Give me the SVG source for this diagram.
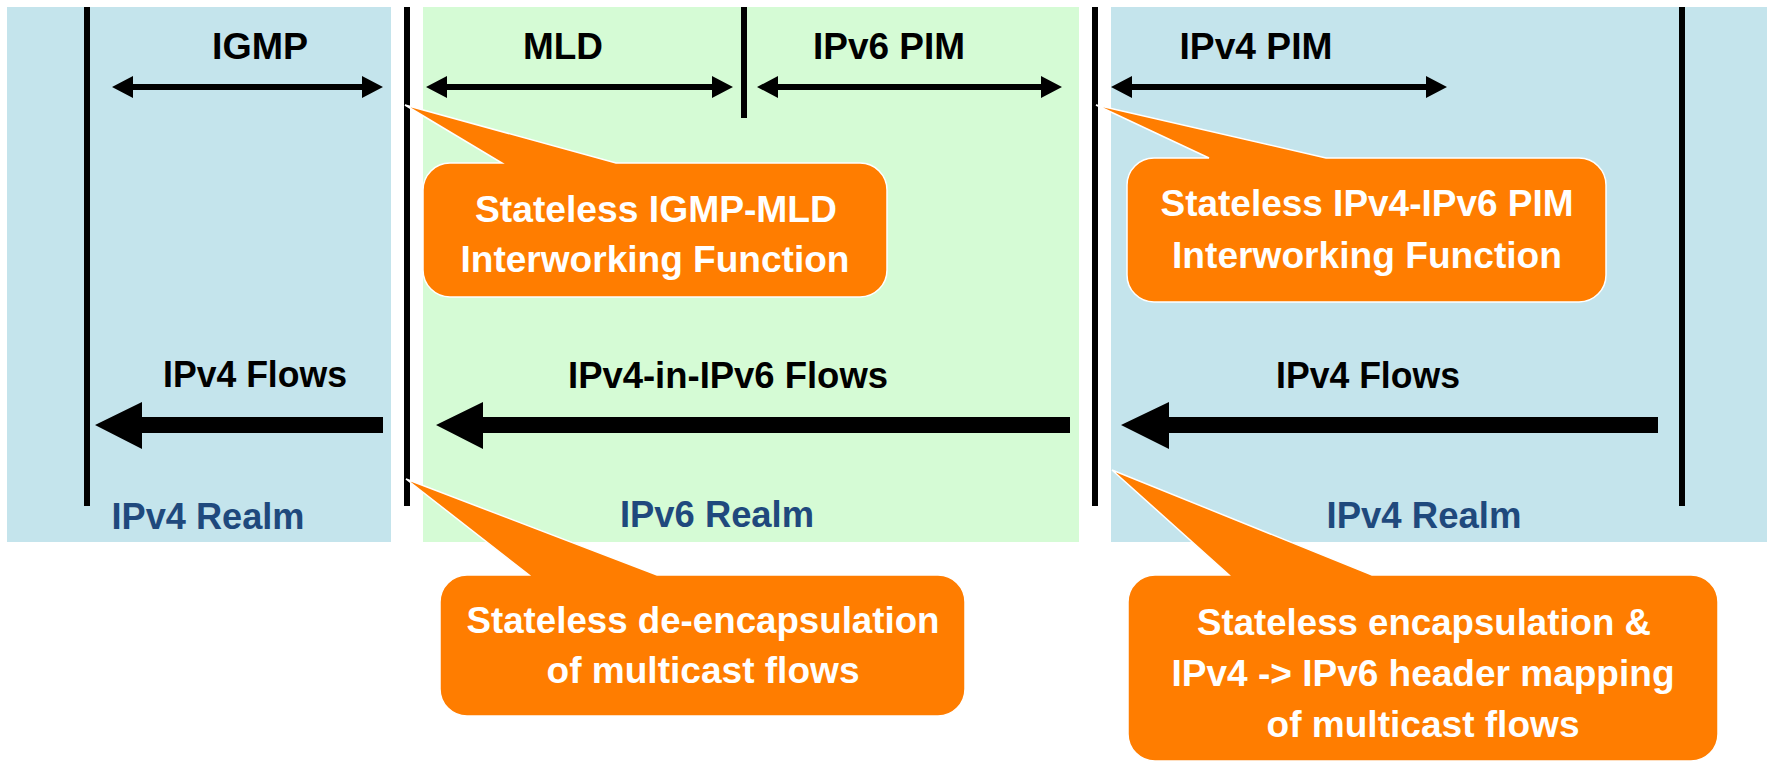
<svg xmlns="http://www.w3.org/2000/svg" width="1772" height="764" viewBox="0 0 1772 764">
  <style>
    .bg-v4 { fill: #C4E4EC; }
    .bg-v6 { fill: #D5FBD5; }
    .bound { stroke: #000; stroke-width: 6; fill: none; }
    .lbl { font-family: "Liberation Sans", Arial, sans-serif; font-weight: bold; font-size: 37px; fill: #000; text-anchor: middle; }
    .realm { font-family: "Liberation Sans", Arial, sans-serif; font-weight: bold; font-size: 36px; fill: #1F497D; text-anchor: middle; }
    .call { fill: #FF7D00; stroke: #FFFFFF; stroke-width: 1.5; }
    .ctext { font-family: "Liberation Sans", Arial, sans-serif; font-weight: bold; font-size: 37.5px; fill: #FFFFFF; text-anchor: middle; }
    .arr { fill: #000; }
  </style>

  <rect width="1772" height="764" fill="#FFFFFF"/>

  <g id="realm-ipv4-left">
    <rect class="bg-v4" x="7" y="7" width="384" height="535"/>
    <text class="realm" x="208" y="529" textLength="193" lengthAdjust="spacingAndGlyphs">IPv4 Realm</text>
  </g>
  <g id="realm-ipv6">
    <rect class="bg-v6" x="423" y="7" width="656" height="535"/>
    <text class="realm" x="717" y="527" textLength="194" lengthAdjust="spacingAndGlyphs">IPv6 Realm</text>
  </g>
  <g id="realm-ipv4-right">
    <rect class="bg-v4" x="1111" y="7" width="656" height="535"/>
    <text class="realm" x="1424" y="528" textLength="195" lengthAdjust="spacingAndGlyphs">IPv4 Realm</text>
  </g>

  <g id="boundaries">
    <line class="bound" x1="87" y1="7" x2="87" y2="506"/>
    <line class="bound" x1="407" y1="7" x2="407" y2="506"/>
    <line class="bound" x1="744" y1="7" x2="744" y2="118"/>
    <line class="bound" x1="1095" y1="7" x2="1095" y2="506"/>
    <line class="bound" x1="1682" y1="7" x2="1682" y2="506"/>
  </g>

  <g id="connectors">
    <!-- bidirectional protocol arrows -->
    <path class="arr" d="M112,87 L133,76 L133,84 L362,84 L362,76 L383,87 L362,98 L362,90 L133,90 L133,98 Z"/>
    <path class="arr" d="M426,87 L447,76 L447,84 L712,84 L712,76 L733,87 L712,98 L712,90 L447,90 L447,98 Z"/>
    <path class="arr" d="M757,87 L778,76 L778,84 L1041,84 L1041,76 L1062,87 L1041,98 L1041,90 L778,90 L778,98 Z"/>
    <path class="arr" d="M1111,87 L1132,76 L1132,84 L1426,84 L1426,76 L1447,87 L1426,98 L1426,90 L1132,90 L1132,98 Z"/>
    <!-- flow arrows -->
    <path class="arr" d="M95,425 L142,402 L142,417 L383,417 L383,433 L142,433 L142,449 Z"/>
    <path class="arr" d="M436,425 L483,402 L483,417 L1070,417 L1070,433 L483,433 L483,449 Z"/>
    <path class="arr" d="M1121,425 L1169,402 L1169,417 L1658,417 L1658,433 L1169,433 L1169,449 Z"/>
  </g>

  <g id="labels">
    <text class="lbl" x="260" y="59" textLength="96" lengthAdjust="spacingAndGlyphs">IGMP</text>
    <text class="lbl" x="563" y="59" textLength="80" lengthAdjust="spacingAndGlyphs">MLD</text>
    <text class="lbl" x="889" y="59" textLength="152" lengthAdjust="spacingAndGlyphs">IPv6 PIM</text>
    <text class="lbl" x="1256" y="59" textLength="153" lengthAdjust="spacingAndGlyphs">IPv4 PIM</text>
    <text class="lbl" x="255" y="387" textLength="184" lengthAdjust="spacingAndGlyphs">IPv4 Flows</text>
    <text class="lbl" x="728" y="388" textLength="320" lengthAdjust="spacingAndGlyphs">IPv4-in-IPv6 Flows</text>
    <text class="lbl" x="1368" y="388" textLength="184" lengthAdjust="spacingAndGlyphs">IPv4 Flows</text>
  </g>

  <g id="callout-igmp-mld">
    <path class="call" d="M450,163 L502,163 L405,105 L616,163 L860,163 A27,27 0 0 1 887,190 L887,270 A27,27 0 0 1 860,297 L450,297 A27,27 0 0 1 423,270 L423,190 A27,27 0 0 1 450,163 Z"/>
    <text class="ctext" x="656" y="222" textLength="362" lengthAdjust="spacingAndGlyphs">Stateless IGMP-MLD</text>
    <text class="ctext" x="655" y="272" textLength="389" lengthAdjust="spacingAndGlyphs">Interworking Function</text>
  </g>

  <g id="callout-pim">
    <path class="call" d="M1154,158 L1209,158 L1096,105 L1326,158 L1579,158 A27,27 0 0 1 1606,185 L1606,275 A27,27 0 0 1 1579,302 L1154,302 A27,27 0 0 1 1127,275 L1127,185 A27,27 0 0 1 1154,158 Z"/>
    <text class="ctext" x="1367" y="216" textLength="413" lengthAdjust="spacingAndGlyphs">Stateless IPv4-IPv6 PIM</text>
    <text class="ctext" x="1367" y="268" textLength="390" lengthAdjust="spacingAndGlyphs">Interworking Function</text>
  </g>

  <g id="callout-decap">
    <path class="call" d="M467,575 L529,575 L406,479 L657,575 L938,575 A27,27 0 0 1 965,602 L965,689 A27,27 0 0 1 938,716 L467,716 A27,27 0 0 1 440,689 L440,602 A27,27 0 0 1 467,575 Z"/>
    <text class="ctext" x="703" y="633" textLength="473" lengthAdjust="spacingAndGlyphs">Stateless de-encapsulation</text>
    <text class="ctext" x="703" y="683" textLength="313" lengthAdjust="spacingAndGlyphs">of multicast flows</text>
  </g>

  <g id="callout-encap">
    <path class="call" d="M1155,575 L1229,575 L1112,470 L1372,575 L1691,575 A27,27 0 0 1 1718,602 L1718,734 A27,27 0 0 1 1691,761 L1155,761 A27,27 0 0 1 1128,734 L1128,602 A27,27 0 0 1 1155,575 Z"/>
    <text class="ctext" x="1424" y="635" textLength="454" lengthAdjust="spacingAndGlyphs">Stateless encapsulation &amp;</text>
    <text class="ctext" x="1423" y="686" textLength="503" lengthAdjust="spacingAndGlyphs">IPv4 -&gt; IPv6 header mapping</text>
    <text class="ctext" x="1423" y="737" textLength="313" lengthAdjust="spacingAndGlyphs">of multicast flows</text>
  </g>
</svg>
